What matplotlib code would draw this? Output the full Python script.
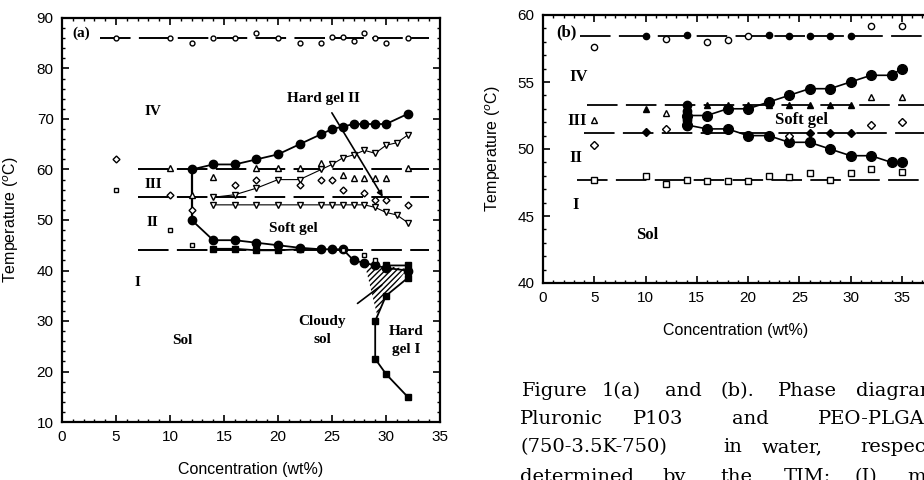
import matplotlib
matplotlib.use("Agg")
import matplotlib.pyplot as plt
from matplotlib.ticker import MultipleLocator
from matplotlib.patches import Polygon

plt.rcParams['font.family'] = ['Liberation Sans', 'DejaVu Sans']
plt.rcParams['lines.scale_dashes'] = False

# ---------------- panel (a) : Pluronic P103 ----------------
a_levels = [86, 60, 54.5, 44]
a_level_start = [3.5, 7, 7, 7]
a_level_end = 34

a_top_conc = [5, 10, 12, 14, 16, 18, 20, 22, 24, 25, 26, 27, 28, 29, 30, 32]
a_top_temp = [86, 86, 85, 86, 86, 87, 86, 85, 85, 86.3, 86.3, 85.5, 87, 86, 85, 86]

a_hg2_conc = [12, 14, 16, 18, 20, 22, 24, 25, 26, 27, 28, 29, 30, 32]
a_hg2_temp = [60, 61, 61, 62, 63, 65, 67, 68, 68.5, 69, 69, 69, 69, 71]

a_sg_conc = [12, 14, 16, 18, 20, 22, 24, 25, 26, 27, 28, 29, 30, 32]
a_sg_temp = [50, 46, 46, 45.5, 45, 44.5, 44.2, 44.2, 44.2, 42, 41.5, 41, 40.5, 40]

a_split_conc = [12, 12]
a_split_temp = [60, 50]

a_fsq_conc = [14, 16, 18, 20, 22]
a_fsq_temp = [44.3, 44.3, 44.0, 44.0, 44.2]

a_hg1_conc = [30, 32, 32, 30, 29, 29, 30, 32]
a_hg1_temp = [41, 41, 38.5, 35, 30, 22.5, 19.5, 15]

a_cloudy_conc = [28, 32, 30, 29.2]
a_cloudy_temp = [41.5, 40.3, 35, 31]

a_tri_conc = [10, 12, 14, 18, 20, 22, 24, 26, 27, 28, 29, 30, 32]
a_tri_temp = [60.3, 55, 58.5, 60.2, 60.2, 60.2, 61.2, 59, 58.3, 58.3, 58.3, 58.3, 60.2]

a_dia_conc = [5, 10, 12, 16, 18, 22, 24, 25, 26, 28, 29, 30, 32]
a_dia_temp = [62, 55, 52, 57, 58, 57, 58, 58, 56, 55.3, 54, 54, 53]

a_tdu_conc = [14, 16, 18, 20, 22, 24, 25, 26, 27, 28, 29, 30, 31, 32]
a_tdu_temp = [54.5, 55, 56.3, 58, 58, 60, 61, 62.3, 62.9, 63.8, 63.2, 64.8, 65.3, 66.8]

a_tdl_conc = [14, 16, 18, 20, 22, 24, 25, 26, 27, 28, 29, 30, 31, 32]
a_tdl_temp = [53, 53, 53, 53, 53, 53, 53, 53, 53, 53, 52.5, 51.5, 51, 49.5]

a_osq_conc = [5, 10, 12, 26, 28, 29]
a_osq_temp = [56, 48, 45, 44, 43, 42]

# ---------------- panel (b) : PEO-PLGA-PEO ----------------
b_levels = [58.4, 53.3, 51.2, 47.7]
b_level_start = [3.6, 4.3, 4.0, 3.3]
b_level_end = 40

b_top_conc = [5, 10, 12, 14, 16, 18, 20, 22, 24, 26, 28, 30, 32, 35]
b_top_temp = [57.6, 58.4, 58.2, 58.5, 58.0, 58.1, 58.4, 58.5, 58.4, 58.4, 58.4, 58.4, 59.2, 59.2]
b_top_filled = [0, 1, 0, 1, 0, 0, 0, 1, 1, 1, 1, 1, 0, 0]

b_up_conc = [14, 16, 18, 20, 22, 24, 26, 28, 30, 32, 34, 35]
b_up_temp = [52.5, 52.5, 53, 53, 53.5, 54, 54.5, 54.5, 55, 55.5, 55.5, 56]

b_low_conc = [14, 16, 18, 20, 22, 24, 26, 28, 30, 32, 34, 35]
b_low_temp = [51.8, 51.5, 51.5, 51.0, 51.0, 50.5, 50.5, 50.0, 49.5, 49.5, 49.0, 49.0]

b_split_conc = [14, 14, 14, 14]
b_split_temp = [53.3, 52.8, 52.2, 51.7]

b_tri_conc = [5, 10, 12, 14, 16, 18, 20, 22, 24, 26, 28, 30, 32, 35]
b_tri_temp = [52.2, 53.0, 52.7, 53.2, 53.3, 53.3, 53.3, 53.3, 53.3, 53.3, 53.3, 53.3, 53.9, 53.9]
b_tri_filled = [0, 1, 0, 1, 1, 1, 1, 1, 1, 1, 1, 1, 0, 0]

b_dia_conc = [5, 10, 12, 14, 24, 26, 28, 30, 32, 35]
b_dia_temp = [50.3, 51.3, 51.5, 51.8, 51.0, 51.2, 51.2, 51.2, 51.8, 52.0]
b_dia_filled = [0, 1, 0, 1, 0, 1, 1, 1, 0, 0]

b_sq_conc = [5, 10, 12, 14, 16, 18, 20, 22, 24, 26, 28, 30, 32, 35]
b_sq_temp = [47.7, 48.0, 47.4, 47.7, 47.6, 47.6, 47.6, 48.0, 47.9, 48.2, 47.7, 48.2, 48.5, 48.3]

caption_lines = [
    ["Figure", "1(a)", "and", "(b).", "Phase", "diagrams"],
    ["Pluronic", "P103", "and", "PEO-PLGA-PEO"],
    ["(750-3.5K-750)", "in", "water,", "respectively,"],
    ["determined", "by", "the", "TIM;", "(I)", "m"],
]
caption_x = [
    [522, 602, 665, 720, 778, 856],
    [520, 633, 732, 818],
    [520, 723, 762, 860],
    [520, 662, 720, 784, 855, 907],
]
caption_y = [391, 419, 447, 477]

W, H = 924, 480
fig = plt.figure(figsize=(9.24, 4.8), dpi=100)

serif = ['Liberation Serif', 'DejaVu Serif']
dash = (22, 6)
open_kw = dict(mfc='white', mec='black', mew=1.0, ls='none')


def style_axes(ax, xmaj, ymaj, ymin):
    for s in ax.spines.values():
        s.set_linewidth(1.6)
    ax.xaxis.set_major_locator(MultipleLocator(xmaj))
    ax.xaxis.set_minor_locator(MultipleLocator(1))
    ax.yaxis.set_major_locator(MultipleLocator(ymaj))
    ax.yaxis.set_minor_locator(MultipleLocator(ymin))
    ax.tick_params(which='both', direction='in', top=True, right=True,
                   labelsize=11, pad=6)
    ax.tick_params(which='major', length=5, width=1.2)
    ax.tick_params(which='minor', length=2.5, width=1.0)


def split_plot(ax, xs, ys, flags, marker, ms):
    # filled and open points of one series
    xf = [x for x, f in zip(xs, flags) if f]
    yf = [y for y, f in zip(ys, flags) if f]
    xo = [x for x, f in zip(xs, flags) if not f]
    yo = [y for y, f in zip(ys, flags) if not f]
    ax.plot(xo, yo, marker, ms=ms, **open_kw)
    ax.plot(xf, yf, marker, ms=ms, color='black', ls='none')


# ---------- panel (a) ----------
ax = fig.add_axes([62 / W, 1 - 422 / H, 378 / W, 404 / H])
ax.set_xlim(0, 35)
ax.set_ylim(10, 90)
style_axes(ax, 5, 10, 2)

for lvl, x0 in zip(a_levels, a_level_start):
    ax.plot([x0, a_level_end], [lvl, lvl], color='black', lw=1.4, dashes=dash)

ax.plot(a_top_conc, a_top_temp, 'o', ms=3.5, **open_kw)
ax.plot(a_split_conc, a_split_temp, color='black', lw=1.6)
ax.plot(a_hg2_conc, a_hg2_temp, 'o-', color='black', ms=6, lw=1.3)
ax.plot(a_sg_conc, a_sg_temp, 'o-', color='black', ms=6, lw=1.3)
ax.plot(a_fsq_conc, a_fsq_temp, 's-', color='black', ms=4.5, lw=1.3)
ax.plot(a_hg1_conc, a_hg1_temp, 's-', color='black', ms=4.5, lw=1.3)
ax.plot(a_tdu_conc, a_tdu_temp, 'v-', color='black', ms=4, lw=0.8,
        mfc='white', mec='black')
ax.plot(a_tdl_conc, a_tdl_temp, 'v-', color='black', ms=4, lw=0.8,
        mfc='white', mec='black')
ax.plot(a_tri_conc, a_tri_temp, '^', ms=4, **open_kw)
ax.plot(a_dia_conc, a_dia_temp, 'D', ms=3.5, **open_kw)
ax.plot(a_osq_conc, a_osq_temp, 's', ms=3.5, **open_kw)

ax.add_patch(Polygon(list(zip(a_cloudy_conc, a_cloudy_temp)), closed=True,
                     facecolor='white', edgecolor='black', hatch='//////',
                     lw=0, zorder=1))

lab = dict(family=serif, fontweight='bold', fontsize=11)
ax.text(1.0, 87, '(a)', ha='left', va='center', **lab)
ax.text(7.6, 71.4, 'IV', ha='left', va='center', **lab)
ax.text(7.6, 57, 'III', ha='left', va='center', **lab)
ax.text(7.8, 49.6, 'II', ha='left', va='center', **lab)
ax.text(7.0, 37.7, 'I', ha='center', va='center', **lab)
ax.text(21.4, 48.4, 'Soft gel', ha='center', va='center', **lab)
ax.text(11.1, 26.2, 'Sol', ha='center', va='center', **lab)
ax.text(31.9, 26.2, 'Hard\ngel I', ha='center', va='center',
        linespacing=1.5, **lab)
ax.annotate('Hard gel II', xy=(29.7, 54.6), xytext=(24.2, 74),
            ha='center', va='center',
            arrowprops=dict(arrowstyle='-|>', color='black', lw=1.2,
                            shrinkA=4, shrinkB=0, mutation_scale=8),
            **lab)
ax.annotate('Cloudy\nsol', xy=(29.6, 37.1), xytext=(24.1, 28.2),
            ha='center', va='center', linespacing=1.5,
            arrowprops=dict(arrowstyle='-', color='black', lw=1.2,
                            shrinkA=10, shrinkB=0),
            **lab)

ax.set_xlabel('Concentration (wt%)', fontsize=11.5)
ax.set_ylabel(r'Temperature ($^o$C)', fontsize=11.5)
ax.xaxis.set_label_coords(0.5, -0.1)
ax.yaxis.set_label_coords(-0.108, 0.5)

# ---------- panel (b) ----------
bx = fig.add_axes([543 / W, 1 - 283 / H, 410 / W, 268 / H])
bx.set_xlim(0, 40)
bx.set_ylim(40, 60)
style_axes(bx, 5, 5, 1)
bx.set_xticks([0, 5, 10, 15, 20, 25, 30, 35])

for lvl, x0 in zip(b_levels, b_level_start):
    bx.plot([x0, b_level_end], [lvl, lvl], color='black', lw=1.3, dashes=dash)

split_plot(bx, b_top_conc, b_top_temp, b_top_filled, 'o', 4.5)
bx.plot(b_up_conc, b_up_temp, 'o-', color='black', ms=7, lw=1.2)
bx.plot(b_low_conc, b_low_temp, 'o-', color='black', ms=7, lw=1.2)
bx.plot(b_split_conc, b_split_temp, 'o-', color='black', ms=6, lw=1.4)
split_plot(bx, b_tri_conc, b_tri_temp, b_tri_filled, '^', 4.5)
split_plot(bx, b_dia_conc, b_dia_temp, b_dia_filled, 'D', 4.5)
bx.plot(b_sq_conc, b_sq_temp, 's', ms=4.5, **open_kw)

labb = dict(family=serif, fontweight='bold', fontsize=12)
bx.text(2.3, 58.7, '(b)', ha='center', va='center', **labb)
bx.text(2.6, 55.4, 'IV', ha='left', va='center', **labb)
bx.text(2.4, 52.1, 'III', ha='left', va='center', **labb)
bx.text(2.6, 49.3, 'II', ha='left', va='center', **labb)
bx.text(3.2, 45.8, 'I', ha='center', va='center', **labb)
bx.text(10.2, 43.6, 'Sol', ha='center', va='center', **labb)
bx.text(25.2, 52.2, 'Soft gel', ha='center', va='center', **labb)

bx.set_xlabel('Concentration (wt%)', fontsize=11.5)
bx.set_ylabel(r'Temperature ($^o$C)', fontsize=11.5)
bx.xaxis.set_label_coords(0.47, -0.15)
bx.yaxis.set_label_coords(-0.098, 0.5)

# ---------- caption ----------
for words, xs, y in zip(caption_lines, caption_x, caption_y):
    for wd, x in zip(words, xs):
        fig.text(x / W, 1 - y / H, wd, ha='left', va='center',
                 family=['DejaVu Serif'], fontsize=14)

fig.savefig('out.png', dpi=100)
